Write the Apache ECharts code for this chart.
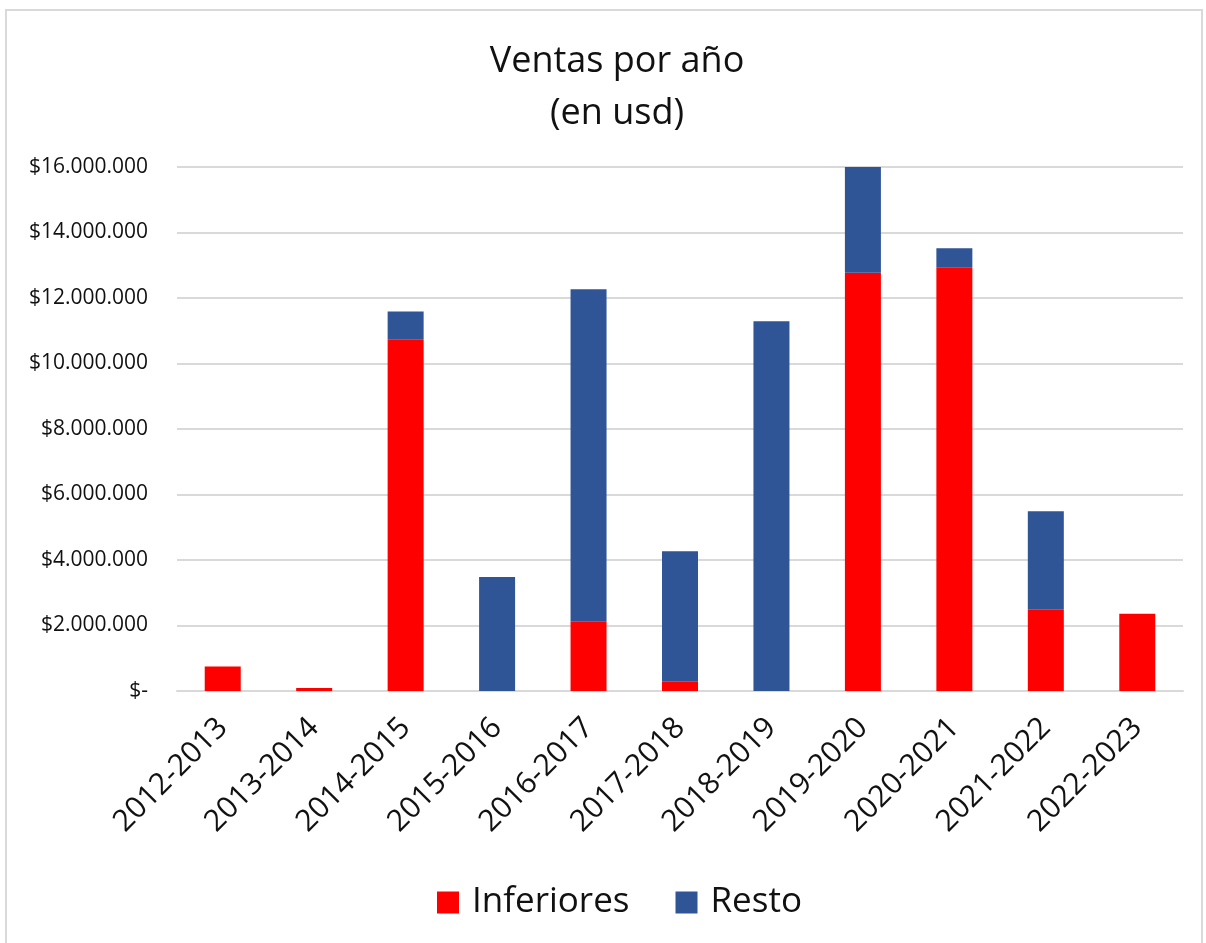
<!DOCTYPE html>
<html>
<head>
<meta charset="utf-8">
<title>Ventas por año</title>
<script src="https://cdn.jsdelivr.net/npm/echarts@6/dist/echarts.min.js"></script>
<style>
	html, body { margin: 0; padding: 0; background: #fff; }
	.frame {
		position: absolute;
		left: 5px;
		top: 9px;
		width: 1194px;
		height: 960px;
		border: 2px solid #d9d9d9;
		border-bottom: none;
	}
	#myChart { position: absolute; left: 0; top: 0; width: 1206px; height: 943px; }
</style>
</head>
<body>
<div class="frame"></div>
<div id="myChart"></div>
<script>
// categorias (eje x)
var years = ['2012-2013', '2013-2014', '2014-2015', '2015-2016', '2016-2017', '2017-2018',
	'2018-2019', '2019-2020', '2020-2021', '2021-2022', '2022-2023']
// ventas en usd
var inferiores = [750000, 90000, 10740000, 0, 2130000, 280000, 0, 12770000, 12940000, 2480000, 2360000]
var resto = [0, 0, 850000, 3480000, 10140000, 3990000, 11290000, 3260000, 580000, 3010000, 0]
var yTicks = [0, 2000000, 4000000, 6000000, 8000000, 10000000, 12000000, 14000000, 16000000]

var font = 'Open Sans'

function money(value){
	if (value === 0) return '$-'
	return '$' + String(Math.round(value)).replace(/\B(?=(\d{3})+(?!\d))/g, '.')
}

var myChart = echarts.init(document.getElementById('myChart'))
myChart.setOption({
	backgroundColor: 'transparent',
	animation: false,
	title: {
		text: 'Ventas por año\n(en usd)',
		left: 612,
		top: 31,
		textAlign: 'center',
		textStyle: {
			fontFamily: font,
			fontSize: 36,
			fontWeight: 'normal',
			color: '#111',
			lineHeight: 52
		}
	},
	legend: {
		left: 432,
		top: 880,
		itemWidth: 22,
		itemHeight: 22,
		itemGap: 46,
		icon: 'rect',
		textStyle: {
			fontFamily: font,
			fontSize: 35,
			color: '#111',
			padding: [0, 0, 0, 8]
		},
		data: ['Inferiores', 'Resto']
	},
	grid: {
		left: 177,
		right: 23,
		top: 167,
		bottom: 252,
		containLabel: false
	},
	xAxis: {
		type: 'category',
		data: years,
		axisTick: { show: false },
		axisLine: {
			lineStyle: { color: '#d9d9d9', width: 2 }
		},
		axisLabel: {
			rotate: 45,
			margin: 32,
			interval: 0,
			fontFamily: font,
			fontSize: 30,
			color: '#111'
		}
	},
	yAxis: {
		type: 'value',
		min: yTicks[0],
		max: yTicks[yTicks.length - 1],
		interval: yTicks[1] - yTicks[0],
		axisLine: { show: false },
		axisTick: { show: false },
		splitLine: {
			lineStyle: { color: '#d9d9d9', width: 2 }
		},
		axisLabel: {
			margin: 29,
			fontFamily: font,
			fontSize: 21,
			color: '#111',
			formatter: money
		}
	},
	series: [{
		name: 'Inferiores',
		type: 'bar',
		stack: 'ventas',
		barWidth: 36,
		itemStyle: { color: '#ff0000' },
		data: inferiores
	}, {
		name: 'Resto',
		type: 'bar',
		stack: 'ventas',
		barWidth: 36,
		itemStyle: { color: '#2f5597' },
		data: resto
	}]
})
</script>
</body>
</html>
